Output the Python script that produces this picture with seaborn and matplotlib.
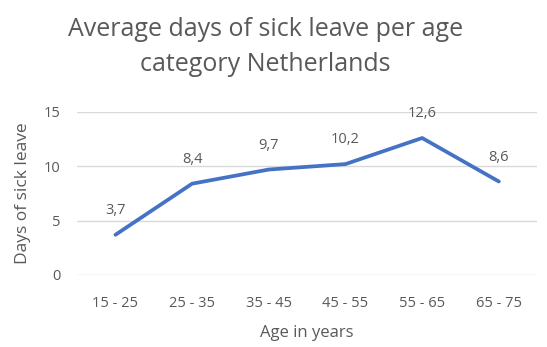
import matplotlib
matplotlib.use("Agg")
import matplotlib.pyplot as plt
import seaborn as sns
import pandas as pd

# data
age_groups = ["15 - 25", "25 - 35", "35 - 45", "45 - 55", "55 - 65", "65 - 75"]
sick_days = [3.7, 8.4, 9.7, 10.2, 12.6, 8.6]
y_ticks = [0, 5, 10, 15]

df = pd.DataFrame({"age": age_groups, "days": sick_days})

sns.set_style("white")
plt.rcParams['font.family'] = ['Open Sans', 'DejaVu Sans']

grey = "#595959"
fig = plt.figure(figsize=(5.47, 3.47), dpi=100)
ax = fig.add_axes([0.141, 0.2075, 0.841, 0.47])

x = list(range(len(age_groups)))
sns.lineplot(x=x, y=df["days"], ax=ax, color="#4472C4", linewidth=2.7)

# value labels above points
for xi, v in zip(x, sick_days):
    ax.annotate(f"{v:.1f}".replace(".", ","), (xi, v), xytext=(0, 12),
                textcoords="offset points", ha="center", va="bottom",
                fontsize=10.5, color=grey)

ax.set_xlim(-0.5, len(age_groups) - 0.5)
ax.set_ylim(0, 15)
ax.set_xticks(x)
ax.set_xticklabels(age_groups)
ax.set_yticks(y_ticks)
ax.grid(axis="y", color="#D9D9D9", linewidth=1)
ax.set_axisbelow(True)
for s in ax.spines.values():
    s.set_visible(False)
ax.tick_params(axis="both", colors=grey, labelsize=10.5, length=0)
ax.tick_params(axis="x", pad=15)
ax.tick_params(axis="y", pad=12)
ax.set_xlabel("Age in years", fontsize=12, color=grey, labelpad=10)
ax.set_ylabel("Days of sick leave", fontsize=12.5, color=grey, labelpad=9)

fig.suptitle("Average days of sick leave per age\ncategory Netherlands",
             fontsize=18, color=grey, x=0.485, y=0.95, linespacing=1.5)

fig.savefig("out.png", dpi=100)
